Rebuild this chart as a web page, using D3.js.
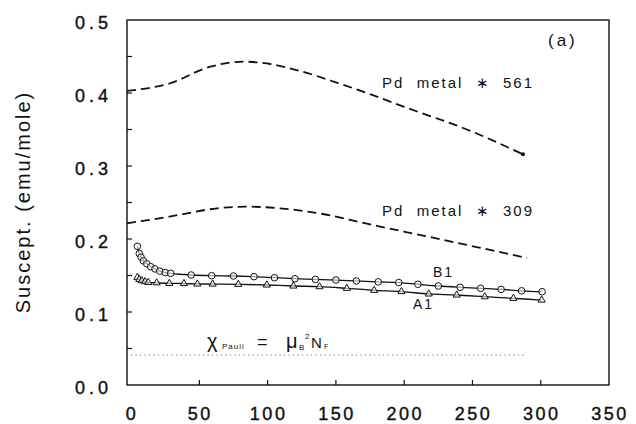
<!DOCTYPE html>
<html>
<head>
<meta charset="utf-8">
<script src="https://cdn.jsdelivr.net/npm/d3@7"></script>
<style>
  body { margin: 0; background: #fff; }
  text { font-family: "Liberation Sans", Arial, sans-serif; fill: #111; }
</style>
</head>
<body>
<svg id="chart"></svg>
<script>
// Pd metal * 561 (dashed)
var t561 = [-3, 28, 58, 82, 95, 121, 151, 177, 200, 250, 287];
var v561 = [0.403, 0.413, 0.436, 0.443, 0.4415, 0.4315, 0.414, 0.397, 0.381, 0.347, 0.316];
// Pd metal * 309 (dashed)
var t309 = [-3, 28, 63, 85, 109, 138, 168, 180, 213, 253, 290];
var v309 = [0.2215, 0.2306, 0.242, 0.2443, 0.242, 0.235, 0.223, 0.218, 0.205, 0.189, 0.174];
// sample B1 (circles)
var tB1 = [4.6, 6, 7.3, 9, 11.5, 14.4, 17.5, 21, 25, 29, 44, 59, 75, 90, 105, 120, 135, 150, 165, 181, 196, 210, 225, 241, 256, 271, 286, 301];
var vB1 = [0.190, 0.180, 0.175, 0.170, 0.166, 0.162, 0.159, 0.156, 0.154, 0.153, 0.1507, 0.1497, 0.1493, 0.1484, 0.147, 0.1456, 0.1447, 0.1438, 0.1425, 0.1413, 0.1403, 0.138, 0.1356, 0.1338, 0.1324, 0.131, 0.129, 0.1278];
// sample A1 (triangles)
var tA1 = [4.6, 6, 7.8, 10.2, 12.6, 18.7, 28, 38.7, 48.5, 59.7, 78.5, 99.4, 118.8, 138, 158, 178, 198, 218, 238.5, 259, 280, 300.7];
var vA1 = [0.1475, 0.1447, 0.1429, 0.1415, 0.1406, 0.140, 0.1392, 0.1390, 0.1384, 0.1383, 0.1379, 0.137, 0.1356, 0.1347, 0.1324, 0.1297, 0.128, 0.1247, 0.1233, 0.121, 0.1187, 0.1164];
// Pauli level (dotted)
var tPauli = [0, 290];
var vPauli = [0.041, 0.041];

var xTicks = [0, 50, 100, 150, 200, 250, 300, 350];
var yTicks = [0.0, 0.1, 0.2, 0.3, 0.4, 0.5];
var yMinor = [0.05, 0.15, 0.25, 0.35, 0.45];

var width = 636;
var height = 424;
var plotL = 127, plotR = 609, plotT = 20, plotB = 385;

var svg = d3.select("svg#chart")
            .attr("width", width)
            .attr("height", height);

var x = d3.scaleLinear().domain([-3, 350]).range([plotL, plotR]);
var y = d3.scaleLinear().domain([0, 0.5]).range([plotB, plotT]);

function pairs(t, v){
  return t.map(function(d, i){ return [d, v[i]]; });
}

var line = d3.line()
             .x(function(d){ return x(d[0]); })
             .y(function(d){ return y(d[1]); })
             .curve(d3.curveMonotoneX);

// frame
svg.append("rect")
   .attr("x", plotL)
   .attr("y", plotT)
   .attr("width", plotR - plotL)
   .attr("height", plotB - plotT)
   .attr("fill", "none")
   .attr("stroke", "#111")
   .attr("stroke-width", 1.4);

// ticks (inward)
svg.selectAll("line.xt")
   .data(xTicks.slice(1, 7))
   .enter()
   .append("line")
   .attr("x1", function(d){ return x(d); })
   .attr("x2", function(d){ return x(d); })
   .attr("y1", plotB)
   .attr("y2", plotB - 5)
   .attr("stroke", "#111")
   .attr("stroke-width", 1.2);

svg.selectAll("line.yt")
   .data(yTicks.slice(1, 5).concat(yMinor))
   .enter()
   .append("line")
   .attr("x1", plotL)
   .attr("x2", plotL + 5)
   .attr("y1", function(d){ return y(d); })
   .attr("y2", function(d){ return y(d); })
   .attr("stroke", "#111")
   .attr("stroke-width", 1.2);

// tick labels
svg.selectAll("text.xl")
   .data(xTicks)
   .enter()
   .append("text")
   .text(function(d){ return d; })
   .attr("x", function(d){ return x(d) + 1; })
   .attr("y", 420)
   .attr("text-anchor", "middle")
   .attr("font-size", 18)
   .attr("letter-spacing", 2.5)
   .attr("stroke", "#111")
   .attr("stroke-width", 0.4);

svg.selectAll("text.yl")
   .data(yTicks)
   .enter()
   .append("text")
   .text(function(d){ return d.toFixed(1); })
   .attr("x", 112)
   .attr("y", function(d){ return y(d) + 9; })
   .attr("text-anchor", "end")
   .attr("font-size", 18)
   .attr("letter-spacing", 4)
   .attr("stroke", "#111")
   .attr("stroke-width", 0.4);

// axis title
svg.append("text")
   .text("Suscept. (emu/mole)")
   .attr("transform", "translate(30,202) rotate(-90)")
   .attr("text-anchor", "middle")
   .attr("font-size", 20)
   .attr("letter-spacing", 2);

// dashed Pd curves
svg.selectAll("path.pd")
   .data([pairs(t561, v561), pairs(t309, v309)])
   .enter()
   .append("path")
   .attr("d", line)
   .attr("fill", "none")
   .attr("stroke", "#111")
   .attr("stroke-width", 1.8)
   .attr("stroke-dasharray", "9,5");

svg.append("circle")
   .attr("cx", x(t561[t561.length - 1]))
   .attr("cy", y(v561[v561.length - 1]))
   .attr("r", 2)
   .attr("fill", "#111");

// Pauli dotted line
svg.append("path")
   .attr("d", line(pairs(tPauli, vPauli)))
   .attr("fill", "none")
   .attr("stroke", "#555")
   .attr("stroke-width", 1)
   .attr("stroke-dasharray", "1,3.5");

// sample curves
svg.selectAll("path.fit")
   .data([pairs(tB1, vB1), pairs(tA1, vA1)])
   .enter()
   .append("path")
   .attr("d", line)
   .attr("fill", "none")
   .attr("stroke", "#111")
   .attr("stroke-width", 1.3);

svg.selectAll("circle.b1")
   .data(pairs(tB1, vB1))
   .enter()
   .append("circle")
   .attr("cx", function(d){ return x(d[0]); })
   .attr("cy", function(d){ return y(d[1]); })
   .attr("r", 3.3)
   .attr("fill", "#fff")
   .attr("fill-opacity", 0.6)
   .attr("stroke", "#111")
   .attr("stroke-width", 1);

var tri = d3.symbol().type(d3.symbolTriangle).size(22);
svg.selectAll("path.a1")
   .data(pairs(tA1, vA1))
   .enter()
   .append("path")
   .attr("d", tri)
   .attr("transform", function(d){ return "translate(" + x(d[0]) + "," + y(d[1]) + ")"; })
   .attr("fill", "#fff")
   .attr("fill-opacity", 0.6)
   .attr("stroke", "#111")
   .attr("stroke-width", 1);

// labels
svg.append("text")
   .text("Pd  metal  \u2217  561")
   .attr("x", 382)
   .attr("y", 88)
   .attr("font-size", 15)
   .attr("letter-spacing", 2)
   .style("white-space", "pre");

svg.append("text")
   .text("Pd  metal  \u2217  309")
   .attr("x", 382)
   .attr("y", 216)
   .attr("font-size", 15)
   .attr("letter-spacing", 2)
   .style("white-space", "pre");

svg.append("text")
   .text("(a)")
   .attr("x", 548)
   .attr("y", 46)
   .attr("font-size", 17)
   .attr("letter-spacing", 3);

svg.append("text")
   .text("B1")
   .attr("x", 433)
   .attr("y", 277)
   .attr("font-size", 14)
   .attr("letter-spacing", 2);

svg.append("text")
   .text("A1")
   .attr("x", 413)
   .attr("y", 309)
   .attr("font-size", 14)
   .attr("letter-spacing", 2);

var pauli = svg.append("text")
               .attr("y", 348)
               .attr("font-size", 20);
pauli.append("tspan").text("\u03c7").attr("x", 207);
pauli.append("tspan").text("Pauli").attr("x", 222).attr("font-size", 8).attr("letter-spacing", 1).attr("dy", 1);
pauli.append("tspan").text("=").attr("x", 257).attr("dy", -1).attr("font-size", 18);
pauli.append("tspan").text("\u03bc").attr("x", 286).attr("font-size", 20);
pauli.append("tspan").text("B").attr("x", 299).attr("font-size", 8).attr("dy", 2);
pauli.append("tspan").text("2").attr("x", 305).attr("font-size", 8).attr("dy", -11);
pauli.append("tspan").text("N").attr("x", 311).attr("font-size", 15).attr("dy", 9);
pauli.append("tspan").text("F").attr("x", 324).attr("font-size", 7).attr("dy", 1);
</script>
</body>
</html>
